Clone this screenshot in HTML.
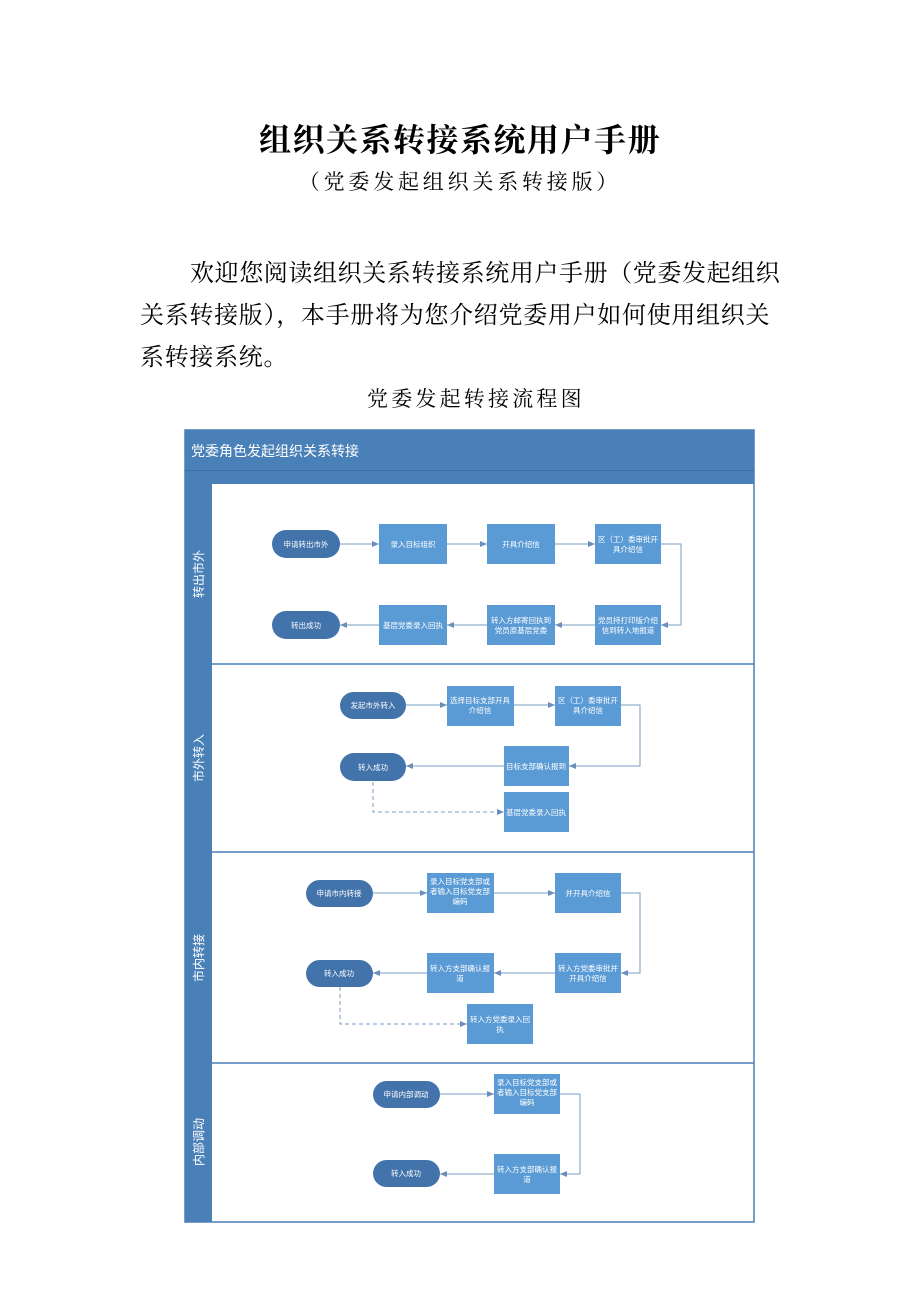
<!DOCTYPE html>
<html><head><meta charset="utf-8"><style>
html,body{margin:0;padding:0;background:#fff;}
body{width:920px;height:1302px;position:relative;overflow:hidden;font-family:"Liberation Serif","Noto Serif CJK SC",serif;color:#000;}
.t{position:absolute;white-space:nowrap;}
</style></head><body>
<div class="t" style="left:0;width:920px;text-align:center;top:115px;font-size:32px;font-weight:bold;letter-spacing:1.5px;">组织关系转接系统用户手册</div>
<div class="t" style="left:0;width:920px;text-align:center;top:166px;font-size:21px;letter-spacing:3.8px;">（党委发起组织关系转接版）</div>
<div class="t" style="left:190px;top:253px;font-size:24px;letter-spacing:0.6px;">欢迎您阅读组织关系转接系统用户手册（党委发起组织</div>
<div class="t" style="left:140px;top:295px;font-size:24px;letter-spacing:0.7px;">关系转接版），本手册将为您介绍党委用户如何使用组织关</div>
<div class="t" style="left:140px;top:337px;font-size:24px;letter-spacing:0.7px;">系转接系统。</div>
<div class="t" style="left:367px;top:383px;font-size:21px;letter-spacing:3.2px;">党委发起转接流程图</div>

<svg style="position:absolute;left:0;top:0" width="920" height="1302" font-family="Liberation Sans, Noto Sans CJK SC, sans-serif">
<defs>
<marker id="a" markerWidth="8" markerHeight="8" refX="7" refY="4" orient="auto" markerUnits="userSpaceOnUse"><path d="M0,1 L7,4 L0,7z" fill="#6b8fb8"/></marker>
</defs>
<rect x="185" y="430" width="569" height="792" fill="#fff" stroke="#4a7fb5" stroke-width="1.5"/>
<rect x="185" y="430" width="569" height="40" fill="#4a80b8"/>
<rect x="185" y="470" width="569" height="14" fill="#4a80b8"/>
<line x1="185" y1="470.5" x2="754" y2="470.5" stroke="#3d6e9f" stroke-width="1"/>
<text x="191" y="456" fill="#fff" font-size="14">党委角色发起组织关系转接</text>
<rect x="185" y="484" width="27" height="738" fill="#4a80b8"/>
<g stroke="#4a7fb5" stroke-width="1.5"><line x1="185" y1="664" x2="754" y2="664"/><line x1="185" y1="852" x2="754" y2="852"/><line x1="185" y1="1063" x2="754" y2="1063"/></g>
<g fill="#fff" font-size="12">
<text transform="translate(203,574) rotate(-90)" text-anchor="middle">转出市外</text>
<text transform="translate(203,758) rotate(-90)" text-anchor="middle">市外转入</text>
<text transform="translate(203,958) rotate(-90)" text-anchor="middle">市内转接</text>
<text transform="translate(203,1142) rotate(-90)" text-anchor="middle">内部调动</text>
</g>
<g stroke="#7a9cc4" stroke-width="1" fill="none" marker-end="url(#a)">
<line x1="340" y1="544" x2="379" y2="544"/><line x1="447" y1="544" x2="487" y2="544"/><line x1="555" y1="544" x2="595" y2="544"/>
<polyline points="661,544 681,544 681,625 661,625"/>
<line x1="595" y1="625" x2="555" y2="625"/><line x1="487" y1="625" x2="447" y2="625"/><line x1="379" y1="625" x2="340" y2="625"/>
<line x1="406" y1="705" x2="447" y2="705"/><line x1="514" y1="705" x2="555" y2="705"/>
<polyline points="621,705 640,705 640,766 569,766"/><line x1="504" y1="766" x2="406" y2="766"/>
<polyline points="373,782 373,812 504,812" stroke-dasharray="4,3"/>
<line x1="373" y1="893" x2="427" y2="893"/><line x1="494" y1="893" x2="555" y2="893"/>
<polyline points="621,893 640,893 640,973 621,973"/><line x1="555" y1="973" x2="494" y2="973"/><line x1="427" y1="973" x2="373" y2="973"/>
<polyline points="340,987 340,1024 467,1024" stroke-dasharray="4,3"/>
<line x1="440" y1="1094" x2="494" y2="1094"/>
<polyline points="560,1094 580,1094 580,1174 560,1174"/><line x1="494" y1="1174" x2="440" y2="1174"/>
</g>
<g fill="#4373ab">
<rect x="272" y="530" width="68" height="28" rx="14"/><rect x="272" y="611" width="68" height="28" rx="14"/>
<rect x="340" y="692" width="66" height="27" rx="13.5"/><rect x="340" y="753" width="66" height="28" rx="14"/>
<rect x="306" y="880" width="67" height="27" rx="13.5"/><rect x="306" y="960" width="67" height="27" rx="13.5"/>
<rect x="373" y="1081" width="67" height="27" rx="13.5"/><rect x="373" y="1160" width="67" height="27" rx="13.5"/>
</g>
<g fill="#5b9bd5">
<rect x="379" y="524" width="68" height="40"/><rect x="487" y="524" width="68" height="40"/><rect x="595" y="524" width="66" height="40"/>
<rect x="595" y="605" width="66" height="40"/><rect x="487" y="605" width="68" height="40"/><rect x="379" y="605" width="68" height="40"/>
<rect x="447" y="686" width="67" height="40"/><rect x="555" y="686" width="66" height="40"/>
<rect x="504" y="746" width="65" height="40"/><rect x="504" y="792" width="65" height="40"/>
<rect x="427" y="873" width="67" height="40"/><rect x="555" y="873" width="66" height="40"/>
<rect x="555" y="953" width="66" height="40"/><rect x="427" y="953" width="67" height="40"/>
<rect x="467" y="1004" width="66" height="40"/>
<rect x="494" y="1074" width="66" height="40"/><rect x="494" y="1154" width="66" height="40"/>
</g>
<g fill="#fff" font-size="7.5" text-anchor="middle">
<text x="306" y="547">申请转出市外</text><text x="306" y="628">转出成功</text>
<text x="413" y="547">录入目标组织</text><text x="521" y="547">开具介绍信</text>
<text x="628" y="542">区（工）委审批开</text><text x="628" y="552">具介绍信</text>
<text x="628" y="623">党员持打印版介绍</text><text x="628" y="633">信到转入地报道</text>
<text x="521" y="623">转入方邮寄回执到</text><text x="521" y="633">党员原基层党委</text>
<text x="413" y="628">基层党委录入回执</text>
<text x="373" y="708">发起市外转入</text>
<text x="480" y="703">选择目标支部开具</text><text x="480" y="713">介绍信</text>
<text x="588" y="703">区（工）委审批开</text><text x="588" y="713">具介绍信</text>
<text x="536" y="769">目标支部确认报到</text><text x="373" y="770">转入成功</text>
<text x="536" y="815">基层党委录入回执</text>
<text x="339" y="896">申请市内转接</text>
<text x="460" y="884">录入目标党支部或</text><text x="460" y="894">者输入目标党支部</text><text x="460" y="904">编码</text>
<text x="588" y="896">并开具介绍信</text>
<text x="588" y="971">转入方党委审批并</text><text x="588" y="981">开具介绍信</text>
<text x="460" y="971">转入方支部确认报</text><text x="460" y="981">道</text>
<text x="339" y="976">转入成功</text>
<text x="500" y="1022">转入方党委录入回</text><text x="500" y="1032">执</text>
<text x="406" y="1097">申请内部调动</text>
<text x="527" y="1085">录入目标党支部或</text><text x="527" y="1095">者输入目标党支部</text><text x="527" y="1105">编码</text>
<text x="527" y="1172">转入方支部确认报</text><text x="527" y="1182">道</text>
<text x="406" y="1176">转入成功</text>
</g>
</svg>
</body></html>
